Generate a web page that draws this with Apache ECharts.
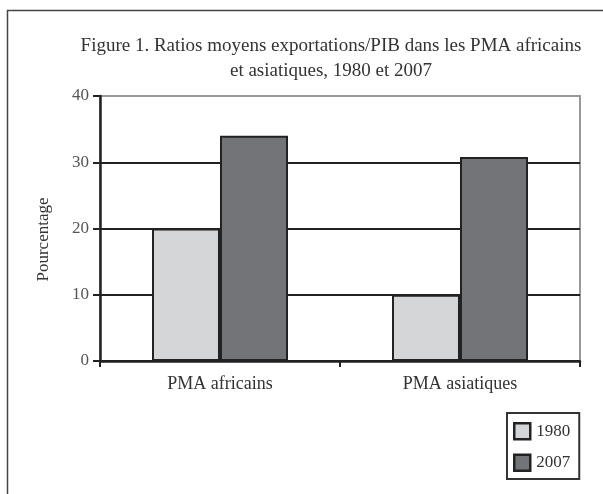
<!DOCTYPE html>
<html>
<head>
<meta charset="utf-8">
<script src="https://cdn.jsdelivr.net/npm/echarts@6/dist/echarts.min.js"></script>
<style>
  html, body { margin: 0; padding: 0; background: #fff; }
  #container { width: 603px; height: 494px; }
</style>
</head>
<body>
<div id="container"></div>
<script>
// donnees
var categories = ['PMA africains', 'PMA asiatiques'];
var years = ['1980', '2007'];
var values1980 = [20, 10];
var values2007 = [34, 30.8];
var yTicks = [0, 10, 20, 30, 40];

var serif = '"Liberation Serif", "DejaVu Serif", serif';

function initChart() {
	var dom = document.getElementById("container");
	var myChart = echarts.init(dom);
	var option = {
		animation: false,
		backgroundColor: '#fff',
		title: {
			text: 'Figure 1. Ratios moyens exportations/PIB dans les PMA africains\net asiatiques, 1980 et 2007',
			left: 331,
			top: 34,
			padding: 0,
			textAlign: 'center',
			textStyle: {
				fontFamily: serif,
				fontSize: 19,
				fontWeight: 'normal',
				color: '#333',
				lineHeight: 25
			}
		},
		graphic: [
			{
				// cadre de la figure
				type: 'rect',
				shape: { x: 7.5, y: 10.5, width: 640, height: 520 },
				style: { fill: 'none', stroke: '#444', lineWidth: 1.5 },
				silent: true
			}
		],
		legend: {
			orient: 'vertical',
			left: 507,
			top: 413,
			padding: [9, 9, 7, 6],
			itemGap: 13,
			itemWidth: 16,
			itemHeight: 16,
			borderColor: '#333',
			borderWidth: 2,
			icon: 'rect',
			itemStyle: { borderColor: '#222', borderWidth: 2.5 },
			textStyle: { fontFamily: serif, fontSize: 17, color: '#333', padding: [0, 0, 0, 1] },
			data: years
		},
		grid: {
			left: 100,
			right: 23,
			top: 96,
			bottom: 133,
			show: true,
			borderColor: '#9a9a9a',
			borderWidth: 2
		},
		xAxis: {
			type: 'category',
			data: categories,
			axisLine: { lineStyle: { color: '#222', width: 2.5 } },
			axisTick: { show: true, length: 6, lineStyle: { color: '#222', width: 2 } },
			axisLabel: { margin: 14, fontFamily: serif, fontSize: 18, color: '#333' }
		},
		yAxis: {
			type: 'value',
			min: yTicks[0],
			max: yTicks[yTicks.length - 1],
			interval: 10,
			name: 'Pourcentage',
			nameLocation: 'middle',
			nameGap: 48,
			nameTextStyle: { fontFamily: serif, fontSize: 17, color: '#333', padding: [0, 22, 0, 0] },
			axisLine: { show: true, lineStyle: { color: '#222', width: 2.5 } },
			axisTick: { show: true, length: 7, lineStyle: { color: '#222', width: 2 } },
			axisLabel: { margin: 11, fontFamily: serif, fontSize: 17, color: '#555' },
			splitLine: {
				show: true,
				lineStyle: { color: ['#222', '#222', '#222', '#222', '#9a9a9a'], width: 2 }
			}
		},
		series: [
			{
				name: years[0],
				type: 'bar',
				data: values1980,
				barWidth: 68,
				barGap: '0%',
				itemStyle: { color: '#d4d5d7', borderColor: '#222', borderWidth: 2 }
			},
			{
				name: years[1],
				type: 'bar',
				data: values2007,
				barWidth: 68,
				itemStyle: { color: '#737478', borderColor: '#222', borderWidth: 2 }
			}
		]
	};
	myChart.setOption(option, true);
}

initChart();
</script>
</body>
</html>
